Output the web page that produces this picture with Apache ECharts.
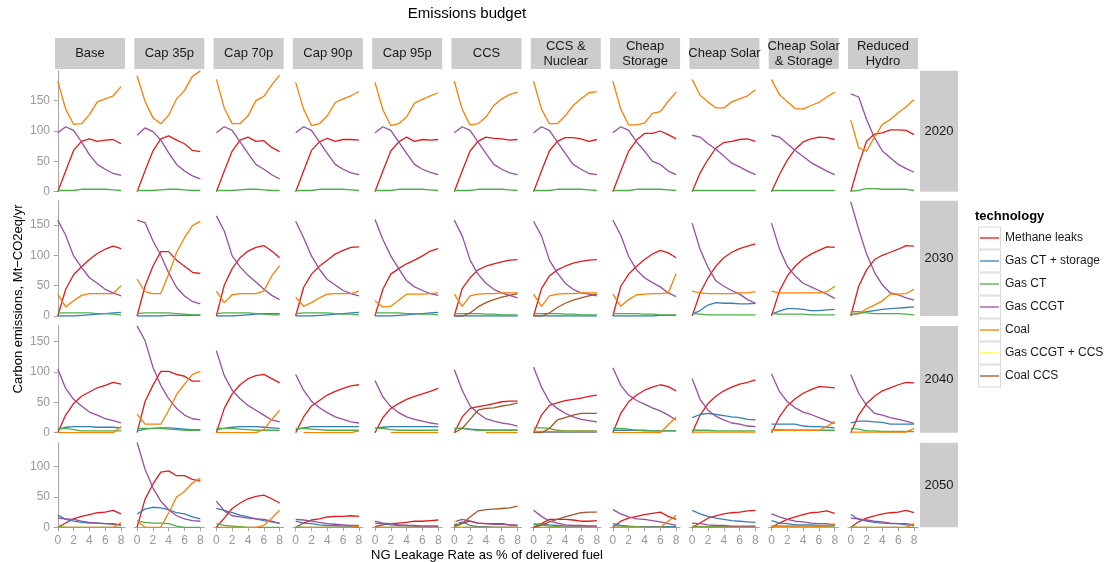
<!DOCTYPE html>
<html>
<head>
<meta charset="utf-8">
<script src="https://cdn.jsdelivr.net/npm/echarts@6/dist/echarts.min.js"></script>
<style>
  html, body { margin: 0; padding: 0; background: #ffffff; }
  #chart { width: 1113px; height: 562px; }
</style>
</head>
<body>
<div id="chart"></div>
<script>
// ---- categories ----
const scenarios = ['Base', 'Cap 35p', 'Cap 70p', 'Cap 90p', 'Cap 95p', 'CCS',
  'CCS &\nNuclear', 'Cheap\nStorage', 'Cheap Solar', 'Cheap Solar\n& Storage', 'Reduced\nHydro'];
const years = ['2020', '2030', '2040', '2050'];
const technologies = ['Methane leaks', 'Gas CT + storage', 'Gas CT', 'Gas CCGT', 'Coal', 'Gas CCGT + CCS', 'Coal CCS'];
const techColors = ['#E41A1C', '#377EB8', '#4DAF4A', '#984EA3', '#FF7F00', '#FFFF33', '#A65628'];
const leakageRates = [0, 1, 2, 3, 4, 5, 6, 7, 8];
const xTickValues = [0, 2, 4, 6, 8];
const yTickValues = [[0, 50, 100, 150], [0, 50, 100, 150], [0, 50, 100, 150], [0, 50, 100]];

// ---- emissions, Mt-CO2eq/yr; one row per scenario (order of `scenarios`) ----
// 2020
const methane2020 = [
  [0,34,68,83,87,83,85,86,79], [0,34,67,87,92,85,79,68,66], [0,34,67,85,90,83,84,73,66],
  [0,34,68,82,88,83,86,86,85], [0,34,67,82,90,83,86,85,86], [0,34,67,83,90,88,87,85,86],
  [0,34,67,83,89,89,87,83,86], [0,34,67,85,96,96,100,94,87], [0,31,53,72,81,83,86,87,83],
  [0,28,52,70,82,87,90,89,86], [0,45,83,95,97,102,102,101,94]];
const gasCtStorage2020 = null;
const gasCt2020 = [
  [2,2,2,4,4,4,4,3,2], [2,2,2,3,4,4,3,2,2], [2,2,2,3,4,4,3,2,2],
  [2,2,2,4,4,4,4,3,2], [2,2,2,4,4,4,4,3,2], [2,2,2,4,4,4,4,3,2],
  [2,2,2,4,4,4,4,3,2], [2,2,2,4,4,4,4,3,2], [2,2,2,2,2,2,2,2,2],
  [2,2,2,2,2,2,2,2,2], [1,2,5,5,4,4,4,4,2]];
const gasCcgt2020 = [
  [97,107,101,82,61,45,37,30,27], [93,105,99,85,64,45,34,26,21], [97,107,101,82,63,45,37,28,21],
  [97,107,101,82,63,45,37,31,28], [97,107,101,82,63,45,37,32,28], [97,107,101,82,63,45,37,31,28],
  [97,107,101,82,63,45,37,30,28], [97,107,101,82,67,50,45,34,28], [93,90,79,70,59,47,41,34,28],
  [93,90,79,68,58,48,41,34,28], [161,156,119,89,67,56,45,38,32]];
const coal2020 = [
  [182,136,111,112,127,148,153,158,173], [191,149,122,112,126,153,167,190,199], [185,138,112,112,125,150,157,176,192],
  [180,136,109,112,125,147,153,158,165], [180,135,109,112,123,146,152,158,163], [182,136,110,112,123,142,153,160,164],
  [182,136,112,112,125,142,153,163,165], [182,136,110,110,113,129,132,149,164], [185,159,148,138,138,148,153,158,168],
  [185,160,148,137,136,142,147,156,164], [118,72,67,90,111,119,130,140,152]];
const gasCcgtCcs2020 = null;
const coalCcs2020 = null;

// 2030
const methane2030 = [
  [0,44,68,81,93,103,110,115,111], [0,49,82,106,106,92,82,72,70], [0,51,78,96,107,113,116,107,96],
  [0,47,69,82,92,102,108,113,114], [0,44,69,78,86,92,99,107,111], [0,45,63,76,82,86,89,92,93],
  [0,45,66,76,82,87,90,92,93], [0,49,69,82,93,102,108,104,96], [0,38,63,82,96,105,111,115,119],
  [0,41,66,82,94,102,108,114,113], [0,49,76,93,100,105,110,116,115]];
const gasCtStorage2030 = [
  [0,0,0,1,2,3,4,5,6], [0,0,0,0,1,1,1,1,1], [0,0,0,1,2,3,4,4,4],
  [0,0,0,1,2,3,4,5,6], [0,0,0,1,2,3,4,5,6], [0,0,0,0,0,0,0,0,0],
  [0,0,0,0,0,0,0,0,0], [0,0,0,0,0,0,1,1,1], [3,9,18,22,21,21,20,20,21],
  [3,8,12,12,11,9,9,10,11], [2,4,7,9,11,12,13,14,15]];
const gasCt2030 = [
  [5,5,5,5,5,4,4,3,2], [4,5,5,5,5,4,3,2,2], [4,5,5,5,5,4,3,2,2],
  [4,5,5,5,5,4,3,3,2], [5,5,5,5,4,4,3,3,2], [4,4,4,4,3,3,2,2,2],
  [4,4,4,4,3,3,2,2,2], [4,4,4,4,3,3,2,2,2], [4,3,2,2,2,2,2,2,2],
  [4,3,3,3,3,2,2,2,2], [7,7,5,4,4,4,4,3,2]];
const gasCcgt2030 = [
  [158,133,99,80,63,54,44,38,33], [158,154,124,100,71,47,33,24,20], [165,140,99,81,67,56,44,34,27],
  [156,129,99,77,60,51,42,37,33], [159,126,99,78,58,48,42,37,34], [158,132,92,69,54,44,38,34,30],
  [156,132,92,71,54,44,38,36,33], [158,133,98,76,63,55,48,38,32], [153,110,80,58,49,42,36,27,21],
  [153,111,82,66,54,48,42,36,29], [188,143,102,72,51,38,35,30,26]];
const coal2030 = [
  [36,15,25,34,37,37,37,37,50], [61,40,37,37,69,105,129,149,156], [41,22,35,37,37,37,41,66,83],
  [31,16,22,30,36,37,37,37,41], [25,15,16,26,36,36,36,37,38], [36,16,33,36,37,37,38,38,38],
  [36,16,33,36,37,37,38,38,38], [36,16,27,35,36,37,37,38,70], [41,38,37,37,37,37,38,38,40],
  [41,38,38,38,38,38,38,40,49], [3,4,12,18,25,36,36,37,44]];
const gasCcgtCcs2030 = null;
const coalCcs2030 = [
  null, null, null, null, null, [0,0,5,15,22,27,31,34,37],
  [0,0,5,14,21,26,30,33,36], null, null, null, null];

// 2040
const methane2040 = [
  [0,29,48,60,67,74,78,83,80], [0,51,78,101,101,96,93,85,85], [0,40,64,79,89,94,96,89,82],
  [0,26,44,53,62,68,73,77,79], [0,25,40,48,55,60,64,68,73], [0,26,40,43,45,48,51,52,52],
  [0,29,45,49,53,55,57,60,62], [0,32,51,62,70,75,79,76,69], [0,29,48,60,69,75,80,83,87],
  [0,26,44,56,65,71,76,75,74], [0,29,48,60,69,74,79,83,82]];
const gasCtStorage2040 = [
  [5,9,10,10,10,9,9,9,8], [3,6,7,8,8,7,6,5,5], [5,7,9,10,10,10,9,8,7],
  [5,8,10,10,10,10,10,10,10], [7,9,10,10,10,10,10,10,10], [7,7,6,5,4,4,4,4,4],
  [2,1,1,1,1,1,1,1,1], [4,4,4,4,4,3,3,3,3], [25,30,32,30,28,26,25,22,21],
  [14,14,14,14,11,10,10,9,8], [16,19,19,18,17,14,14,14,14]];
const gasCt2040 = [
  [6,7,5,3,3,3,3,3,3], [7,7,7,7,6,5,4,4,4], [7,7,7,6,5,4,4,4,4],
  [7,7,6,5,4,4,4,4,4], [7,7,5,4,4,4,4,4,4], [7,7,5,4,4,4,4,4,4],
  [8,8,7,4,3,3,3,3,3], [7,7,6,4,3,3,3,3,3], [4,4,4,3,3,3,3,3,3],
  [5,5,4,4,4,4,4,4,4], [7,6,3,3,2,2,2,2,2]];
const gasCcgt2040 = [
  [105,73,55,44,34,29,23,20,16], [176,152,108,78,56,40,29,23,21], [135,94,70,56,45,37,29,21,18],
  [96,70,52,41,33,26,22,18,16], [86,59,43,33,26,22,19,16,14], [104,70,44,32,23,19,16,14,11],
  [108,75,51,40,32,26,22,20,18], [107,78,62,53,47,41,36,29,21], [89,55,37,27,21,16,14,11,10],
  [97,68,51,41,34,30,25,20,15], [96,65,45,32,29,25,22,19,15]];
const coal2040 = [
  [0,0,0,0,0,0,0,0,10], [31,14,14,14,37,63,80,96,101], [0,0,0,0,0,0,5,22,37],
  [null,0,0,0,0,0,0,0,3], [null,null,0,0,0,0,0,0,0], [null,null,null,null,0,0,0,0,0],
  [2,2,2,2,2,2,2,2,2], [0,0,0,0,0,0,0,13,26], [1,1,1,1,1,1,1,1,1],
  [4,4,4,4,4,4,4,10,19], [1,1,1,1,1,1,1,1,7]];
const gasCcgtCcs2040 = null;
const coalCcs2040 = [
  null, null, null, null, null, [0,7,22,37,40,41,44,46,49],
  [0,0,7,21,25,29,32,32,32], null, null, null, null];

// 2050
const methane2050 = [
  [0,7,14,18,21,24,25,28,22], [0,46,71,91,93,85,85,79,76], [0,15,31,40,47,51,53,47,40],
  [0,7,12,14,17,18,18,19,18], [1,4,6,7,8,10,10,11,12], [3,7,10,7,6,6,6,4,3],
  [0,6,13,13,13,12,10,10,11], [0,10,15,18,21,23,25,18,13], [0,7,15,19,22,24,25,27,28],
  [0,7,13,17,21,24,25,27,23], [0,9,15,19,22,24,25,28,24]];
const gasCtStorage2050 = [
  [20,13,10,8,7,7,6,6,3], [22,30,33,32,29,24,22,17,14], [31,28,24,20,17,14,11,9,7],
  [10,7,6,4,3,3,2,2,2], [7,6,4,3,3,2,2,2,2], [4,9,3,1,1,0,0,0,0],
  [4,6,4,3,2,2,2,2,2], [6,3,2,1,1,1,1,1,1], [28,22,18,15,13,11,10,9,8],
  [11,7,6,4,4,4,3,3,3], [21,13,10,8,7,6,6,4,3]];
const gasCt2050 = [
  [2,0,0,0,0,0,0,0,0], [10,8,7,7,6,2,0,0,0], [6,3,2,1,0,0,0,0,0],
  [1,0,0,0,0,0,0,0,0], [0,0,0,0,0,0,0,0,0], [0,0,0,0,0,0,0,0,0],
  [6,4,2,1,0,0,0,0,0], [3,2,1,1,0,0,0,0,0], [2,1,1,1,1,1,1,1,1],
  [2,2,2,2,2,2,2,2,2], [1,0,0,0,0,0,0,0,0]];
const gasCcgt2050 = [
  [15,14,13,10,8,7,6,5,4], [140,96,65,43,29,19,14,11,10], [43,27,19,17,15,14,13,10,6],
  [13,12,10,8,6,5,4,3,3], [10,7,6,4,3,3,2,2,2], [9,13,10,7,6,5,5,4,3],
  [28,18,10,7,4,3,3,2,2], [29,22,17,14,13,11,9,6,3], [7,6,4,3,3,2,2,2,2],
  [22,17,13,10,9,7,6,6,4], [15,14,12,10,9,7,6,6,4]];
const coal2050 = [
  [0,0,0,0,0,0,0,0,8], [11,0,0,0,24,50,59,73,81], [0,0,0,0,0,0,3,15,28],
  [null,0,0,0,0,0,0,0,2], [0,0,0,0,0,0,0,0,0], [0,0,0,0,0,0,0,0,0],
  [0,0,0,0,0,0,0,0,0], [0,0,0,0,0,0,0,10,20], [0,0,0,0,0,0,0,0,0],
  [2,2,2,2,2,2,2,2,6], [0,0,0,0,0,0,0,0,6]];
const gasCcgtCcs2050 = [
  null, null, null, null, null, [11,0,null,null,null,null,null,null,null],
  null, null, null, null, null];
const coalCcs2050 = [
  null, null, null, null, null, [1,6,17,27,29,30,31,32,35],
  [0,3,9,13,17,21,24,25,25], null, null, null, null];

// technology tables per year, in legend order
const yearTables = [
  [methane2020, gasCtStorage2020, gasCt2020, gasCcgt2020, coal2020, gasCcgtCcs2020, coalCcs2020],
  [methane2030, gasCtStorage2030, gasCt2030, gasCcgt2030, coal2030, gasCcgtCcs2030, coalCcs2030],
  [methane2040, gasCtStorage2040, gasCt2040, gasCcgt2040, coal2040, gasCcgtCcs2040, coalCcs2040],
  [methane2050, gasCtStorage2050, gasCt2050, gasCcgt2050, coal2050, gasCcgtCcs2050, coalCcs2050]
];

// ---- layout ----
const FONT = "'Liberation Sans', Arial, Helvetica, sans-serif";
const AXIS_GREY = '#a6a6a6';
const LABEL_GREY = '#999999';
const STRIP_GREY = '#cccccc';
const panelLeft0 = 55, panelStep = 79.3, panelWidth = 70;
const xMin = -0.35, xMax = 8.5;
const pxPerUnit = 0.607;
// panel top edge and y=0 pixel for each year row
const rowTop = [70.7, 200.7, 326.0, 442.7];
const rowZero = [191.7, 316.0, 432.7, 527.3];
const stripTop = 38, stripBottom = 69;
const rightStripLeft = 920, rightStripRight = 958;

const chart = echarts.init(document.getElementById('chart'), null, { renderer: 'canvas' });

const grids = [], xAxes = [], yAxes = [], series = [];
years.forEach((yr, r) => {
  const h = rowZero[r] - rowTop[r];
  const yMax = h / pxPerUnit;
  scenarios.forEach((sc, c) => {
    const g = grids.length;
    grids.push({ left: panelLeft0 + c * panelStep, top: rowTop[r], width: panelWidth, height: h, containLabel: false });
    const isBottom = r === years.length - 1;
    xAxes.push({
      gridIndex: g, type: 'value', min: xMin, max: xMax, show: isBottom,
      axisLine: { show: true, lineStyle: { color: AXIS_GREY, width: 1 } },
      axisTick: { show: true, customValues: xTickValues, length: 4, lineStyle: { color: AXIS_GREY } },
      axisLabel: { show: true, customValues: xTickValues, color: LABEL_GREY, fontSize: 12, fontFamily: FONT, margin: 7 },
      splitLine: { show: false }
    });
    yAxes.push({
      gridIndex: g, type: 'value', min: 0, max: yMax, show: c === 0,
      axisLine: { show: true, lineStyle: { color: AXIS_GREY, width: 1 } },
      axisTick: { show: true, customValues: yTickValues[r], length: 4, lineStyle: { color: AXIS_GREY } },
      axisLabel: { show: true, customValues: yTickValues[r], color: LABEL_GREY, fontSize: 12, fontFamily: FONT, margin: 5 },
      splitLine: { show: false }
    });
    technologies.forEach((tech, t) => {
      const table = yearTables[r][t];
      const vals = table ? table[c] : null;
      if (!vals) return;
      const pts = leakageRates.map((x, i) => [x, vals[i]]).filter(p => p[1] !== null);
      series.push({
        name: tech, type: 'line', xAxisIndex: g, yAxisIndex: g,
        data: pts, showSymbol: false, symbol: 'none', silent: true,
        lineStyle: { color: techColors[t], width: 1.3 },
        itemStyle: { color: techColors[t] },
        clip: true, animation: false
      });
    });
  });
});

// strips, titles, legend
const graphics = [];
scenarios.forEach((sc, c) => {
  const x = panelLeft0 + c * panelStep;
  graphics.push({ type: 'rect', shape: { x: x, y: stripTop, width: panelWidth, height: stripBottom - stripTop },
    style: { fill: STRIP_GREY }, silent: true });
  graphics.push({ type: 'text', x: x + panelWidth / 2, y: (stripTop + stripBottom) / 2,
    style: { text: sc, fill: '#1a1a1a', font: '13px ' + FONT, align: 'center', verticalAlign: 'middle', lineHeight: 15 },
    silent: true });
});
years.forEach((yr, r) => {
  graphics.push({ type: 'rect', shape: { x: rightStripLeft, y: rowTop[r], width: rightStripRight - rightStripLeft, height: rowZero[r] - rowTop[r] },
    style: { fill: STRIP_GREY }, silent: true });
  graphics.push({ type: 'text', x: (rightStripLeft + rightStripRight) / 2, y: (rowTop[r] + rowZero[r]) / 2,
    style: { text: yr, fill: '#1a1a1a', font: '13px ' + FONT, align: 'center', verticalAlign: 'middle' }, silent: true });
});
graphics.push({ type: 'text', x: 467, y: 14,
  style: { text: 'Emissions budget', fill: '#000', font: '15px ' + FONT, align: 'center', verticalAlign: 'middle' }, silent: true });
graphics.push({ type: 'text', x: 487, y: 555,
  style: { text: 'NG Leakage Rate as % of delivered fuel', fill: '#000', font: '13px ' + FONT, align: 'center', verticalAlign: 'middle' }, silent: true });
graphics.push({ type: 'text', x: 18, y: 299, rotation: Math.PI / 2,
  style: { text: 'Carbon emissions, Mt\u2212CO2eq/yr', fill: '#000', font: '13px ' + FONT, align: 'center', verticalAlign: 'middle' }, silent: true });

// legend
graphics.push({ type: 'text', x: 975, y: 216,
  style: { text: 'technology', fill: '#000', font: 'bold 13px ' + FONT, align: 'left', verticalAlign: 'middle' }, silent: true });
technologies.forEach((tech, t) => {
  const cy = 238 + t * 23;
  graphics.push({ type: 'rect', shape: { x: 978.5, y: cy - 11, width: 22, height: 22 },
    style: { fill: '#ffffff', stroke: '#d9d9d9', lineWidth: 1 }, silent: true });
  graphics.push({ type: 'line', shape: { x1: 980, y1: cy, x2: 999, y2: cy },
    style: { stroke: techColors[t], lineWidth: 1.3 }, silent: true });
  graphics.push({ type: 'text', x: 1005, y: cy,
    style: { text: tech, fill: '#1a1a1a', font: '12px ' + FONT, align: 'left', verticalAlign: 'middle' }, silent: true });
});

chart.setOption({
  animation: false,
  backgroundColor: '#ffffff',
  grid: grids, xAxis: xAxes, yAxis: yAxes, series: series,
  graphic: { elements: graphics }
});
</script>
</body>
</html>
